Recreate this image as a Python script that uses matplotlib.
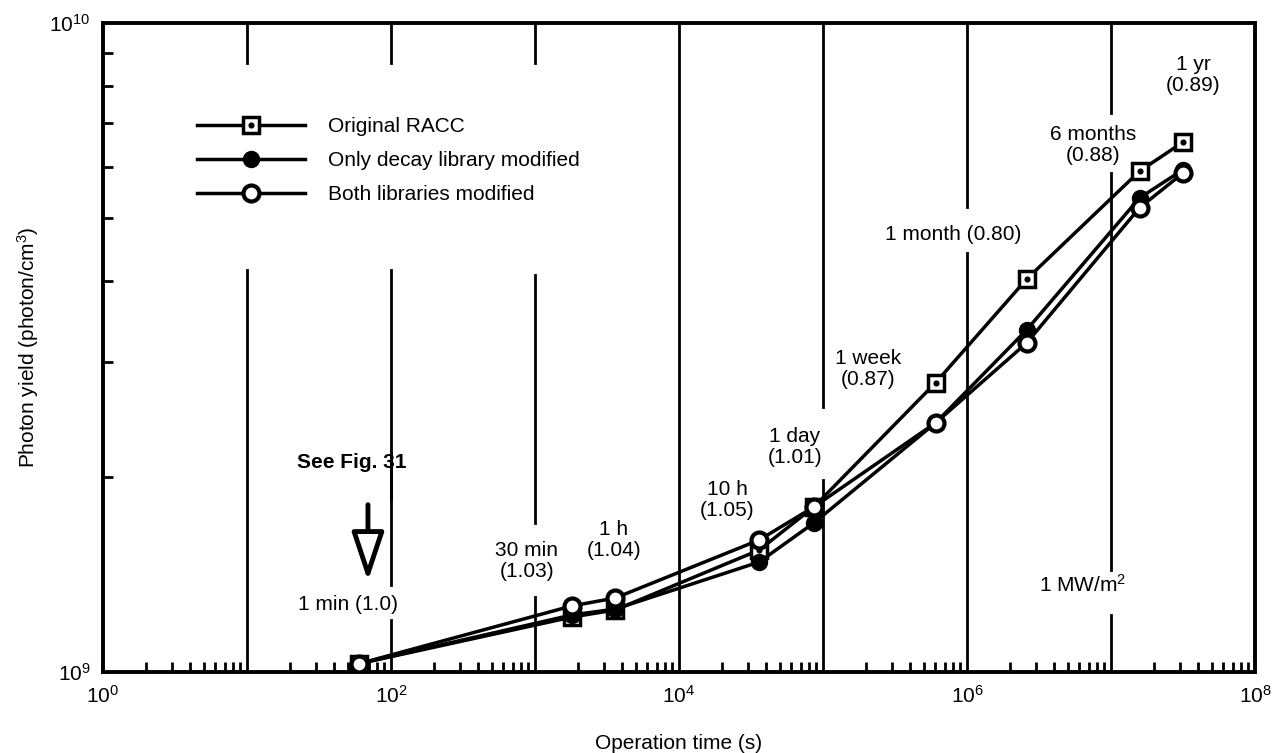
import matplotlib
matplotlib.use("Agg")
import matplotlib.pyplot as plt
from matplotlib.lines import Line2D
from matplotlib.legend_handler import HandlerTuple
from matplotlib.patches import FancyArrowPatch
from matplotlib.ticker import LogLocator, NullFormatter

plt.rcParams['font.family'] = ['Liberation Sans', 'DejaVu Sans']
plt.rcParams['mathtext.fontset'] = 'custom'
plt.rcParams['mathtext.rm'] = 'Liberation Sans'
plt.rcParams['mathtext.it'] = 'Liberation Sans:italic'
plt.rcParams['mathtext.default'] = 'regular'

# Operation times (s): 1 min, 30 min, 1 h, 10 h, 1 day, 1 week, 1 month, 6 months, 1 yr
times = [60, 1800, 3600, 36000, 86400, 604800, 2592000, 15768000, 31536000]
original_racc = [1.03e9, 1.215e9, 1.246e9, 1.541e9, 1.796e9, 2.79e9, 4.03e9, 5.91e9, 6.55e9]
decay_only = [1.03e9, 1.224e9, 1.25e9, 1.477e9, 1.697e9, 2.42e9, 3.365e9, 5.375e9, 5.94e9]
both_libs = [1.03e9, 1.264e9, 1.30e9, 1.597e9, 1.796e9, 2.42e9, 3.213e9, 5.19e9, 5.87e9]

series_labels = ["Original RACC", "Only decay library modified", "Both libraries modified"]
time_labels = ["1 min (1.0)", "30 min\n(1.03)", "1 h\n(1.04)", "10 h\n(1.05)",
               "1 day\n(1.01)", "1 week\n(0.87)", "1 month (0.80)",
               "6 months\n(0.88)", "1 yr\n(0.89)"]
x_tick_values = [1, 1e2, 1e4, 1e6, 1e8]
x_tick_labels = ["$10^{0}$", "$10^{2}$", "$10^{4}$", "$10^{6}$", "$10^{8}$"]
y_tick_values = [1e9, 1e10]
y_tick_labels = ["$10^{9}$", "$10^{10}$"]

fig = plt.figure(figsize=(12.73, 7.53), dpi=100)
ax = fig.add_axes([0.0809, 0.1076, 0.905, 0.8619])
ax.set_xscale('log')
ax.set_yscale('log')
ax.set_xlim(1, 1e8)
ax.set_ylim(1e9, 1e10)

# Decade rules, interrupted where annotations sit
rule_segments = {
    1e1: [(0, 0.619), (0.938, 1)],
    1e2: [(0, 0.080), (0.134, 0.339), (0.265, 0.619), (0.938, 1)],
    1e3: [(0, 0.1156), (0.2296, 0.612), (0.938, 1)],
    1e4: [(0, 1)],
    1e5: [(0, 0.296), (0.408, 1)],
    1e6: [(0, 0.6456), (0.7165, 1)],
    1e7: [(0, 0.0878), (0.157, 0.769), (0.861, 1)],
}
for xv, segs in rule_segments.items():
    for y0, y1 in segs:
        ax.axvline(xv, y0, y1, color='black', lw=2.0, zorder=1)

lw = 2.5
ax.plot(times, original_racc, color='black', lw=lw, marker='s', ms=11.5,
        mfc='white', mec='black', mew=2.5, zorder=3)
ax.plot(times, original_racc, ls='none', marker='o', ms=3.4, color='black', zorder=3.1)
ax.plot(times, decay_only, color='black', lw=lw, marker='o', ms=11.5,
        mfc='black', mec='black', zorder=4)
ax.plot(times, both_libs, color='black', lw=lw, marker='o', ms=11.5,
        mfc='white', mec='black', mew=3.0, zorder=5)

# Legend
h_orig = (Line2D([], [], color='black', lw=lw, marker='s', ms=11.5, mfc='white', mec='black', mew=2.5),
          Line2D([], [], ls='none', marker='o', ms=3.4, color='black'))
h_decay = Line2D([], [], color='black', lw=lw, marker='o', ms=11.5, mfc='black', mec='black')
h_both = Line2D([], [], color='black', lw=lw, marker='o', ms=11.5, mfc='white', mec='black', mew=3.0)
ax.legend([h_orig, h_decay, h_both], series_labels,
          handler_map={tuple: HandlerTuple(ndivide=1)},
          loc='upper left', bbox_to_anchor=(0.0816, 0.855), frameon=False,
          fontsize=15, handlelength=5.2, handletextpad=1.1, labelspacing=0.72,
          borderpad=0, borderaxespad=0)

# Time annotations
label_pos = [(0.2127, 0.1032), (0.368, 0.171), (0.4436, 0.2034), (0.5417, 0.265),
             (0.6007, 0.3467), (0.664, 0.467), (0.7378, 0.6733), (0.8594, 0.812),
             (0.9462, 0.92)]
for txt, (fx, fy) in zip(time_labels, label_pos):
    ax.text(fx, fy, txt, transform=ax.transAxes, ha='center', va='center',
            fontsize=15, linespacing=1.15, zorder=6)

ax.text(0.8507, 0.134, "1 MW/m$^2$", transform=ax.transAxes, ha='center',
        va='center', fontsize=15)
ax.text(0.2161, 0.322, "See Fig. 31", transform=ax.transAxes, ha='center',
        va='center', fontsize=15, fontweight='bold')
arrow = FancyArrowPatch((0.23, 0.262), (0.23, 0.136), transform=ax.transAxes,
                        arrowstyle='-|>,head_length=1.5,head_width=0.5',
                        mutation_scale=20, lw=3.5, fc='white', ec='black', zorder=6)
ax.add_patch(arrow)

# Axes styling
for sp in ax.spines.values():
    sp.set_linewidth(2.8)
ax.set_xticks(x_tick_values)
ax.set_xticklabels(x_tick_labels)
ax.xaxis.set_minor_locator(LogLocator(base=10, subs=range(2, 10), numticks=20))
ax.xaxis.set_minor_formatter(NullFormatter())
ax.set_yticks(y_tick_values)
ax.set_yticklabels(y_tick_labels)
ax.yaxis.set_minor_locator(LogLocator(base=10, subs=range(2, 10), numticks=20))
ax.yaxis.set_minor_formatter(NullFormatter())
ax.tick_params(which='major', length=0, pad=9, labelsize=15)
ax.tick_params(which='minor', direction='in', length=7, width=2,
               top=False, right=False)

ax.set_xlabel("Operation time (s)", fontsize=15, labelpad=20)
ax.set_ylabel("Photon yield (photon/cm$^3$)", fontsize=15, labelpad=6)

fig.savefig("out.png", dpi=100, facecolor='white')
